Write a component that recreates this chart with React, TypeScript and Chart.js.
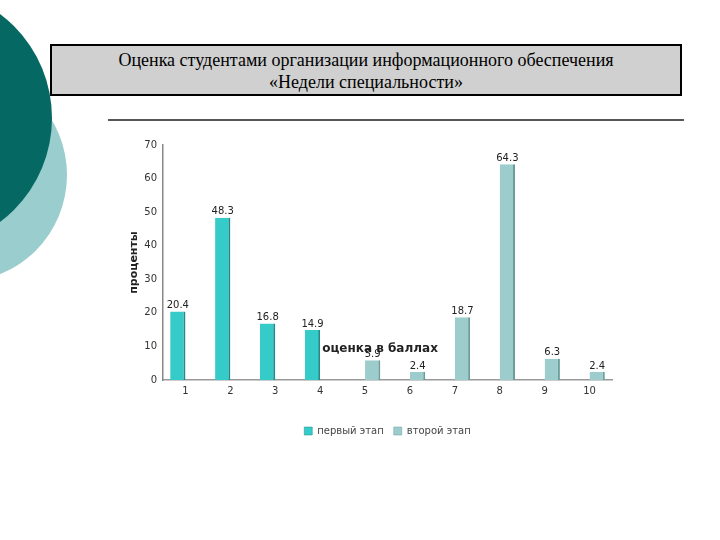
import React, { useEffect, useRef } from "react";
import { Chart, registerables } from "chart.js";

Chart.register(...registerables);

const titleLine1 = "Оценка студентами организации информационного обеспечения";
const titleLine2 = "«Недели специальности»";
const categories = ["1", "2", "3", "4", "5", "6", "7", "8", "9", "10"];
const firstStage = [20.4, 48.3, 16.8, 14.9, null, null, null, null, null, null];
const secondStage = [null, null, null, null, 5.9, 2.4, 18.7, 64.3, 6.3, 2.4];
const seriesNames = ["первый этап", "второй этап"];
const yTitle = "проценты";
const xTitle = "оценка в баллах";

const FONT = "'DejaVu Sans', sans-serif";

const valueLabels = {
  id: "valueLabels",
  afterDatasetsDraw(chart: any) {
    const ctx = chart.ctx;
    ctx.save();
    ctx.font = "10px " + FONT;
    ctx.fillStyle = "#222";
    ctx.textAlign = "center";
    ctx.textBaseline = "bottom";
    chart.data.datasets.forEach((ds: any, i: number) => {
      const meta = chart.getDatasetMeta(i);
      meta.data.forEach((el: any, j: number) => {
        const v = ds.data[j];
        if (v === null || v === undefined) return;
        ctx.fillText(String(v), el.x, el.y - 1);
      });
    });
    ctx.restore();
  },
};

const xTitlePlugin = {
  id: "xTitlePlugin",
  afterDraw(chart: any) {
    const ctx = chart.ctx;
    const xs = chart.scales.x;
    const ys = chart.scales.y;
    ctx.save();
    ctx.font = "bold 12px " + FONT;
    ctx.fillStyle = "#222";
    ctx.textAlign = "center";
    ctx.textBaseline = "middle";
    ctx.fillText(xTitle, xs.getPixelForValue(4) + 15, ys.getPixelForValue(9.4));
    ctx.restore();
  },
};

export default function App() {
  const ref = useRef<HTMLCanvasElement | null>(null);
  useEffect(() => {
    document.body.style.margin = "0";
    const chart = new Chart(ref.current as HTMLCanvasElement, {
      type: "bar",
      data: {
        labels: categories,
        datasets: [
          {
            label: seriesNames[0],
            data: firstStage as any,
            backgroundColor: "#35CBC8",
            borderColor: "#1E8C8A",
            borderWidth: { left: 0, right: 2, top: 0, bottom: 0 } as any,
            borderSkipped: false,
          },
          {
            label: seriesNames[1],
            data: secondStage as any,
            backgroundColor: "#9CCDCC",
            borderColor: "#6E9C9B",
            borderWidth: { left: 0, right: 2, top: 0, bottom: 0 } as any,
            borderSkipped: false,
          },
        ],
      },
      options: {
        responsive: false,
        animation: false,
        maintainAspectRatio: false,
        layout: { padding: { left: 0, right: 28, top: 15, bottom: 4 } },
        datasets: { bar: { categoryPercentage: 0.68, barPercentage: 1.0 } } as any,
        plugins: {
          legend: {
            position: "bottom",
            fullSize: false,
            labels: {
              boxWidth: 8,
              boxHeight: 8,
              padding: 10,
              color: "#444",
              font: { family: FONT, size: 10 },
            },
          },
          tooltip: { enabled: false },
        },
        scales: {
          x: {
            grid: { display: false, drawTicks: false },
            border: { display: true, color: "#999", width: 1.5 },
            ticks: { color: "#333", font: { family: FONT, size: 10 }, padding: 5 },
            afterFit: (s: any) => {
              s.height = 36;
            },
          },
          y: {
            min: 0,
            max: 70,
            grid: { display: false, drawTicks: false },
            border: { display: true, color: "#888", width: 1.5 },
            ticks: { stepSize: 10, color: "#333", font: { family: FONT, size: 10 }, padding: 6 },
            title: {
              display: true,
              text: yTitle,
              color: "#222",
              font: { family: FONT, size: 11, weight: "bold" },
              padding: { top: 28, bottom: 0 },
            },
            afterFit: (s: any) => {
              s.width = 63;
            },
          },
        },
      },
      plugins: [valueLabels, xTitlePlugin],
    });
    return () => chart.destroy();
  }, []);

  return (
    <div
      style={{
        position: "fixed",
        left: 0,
        top: 0,
        width: 720,
        height: 540,
        background: "#fff",
        overflow: "hidden",
      }}
    >
      <div
        style={{
          position: "absolute",
          left: -40 - 107,
          top: 175 - 107,
          width: 214,
          height: 214,
          borderRadius: "50%",
          background: "#9ACDCD",
        }}
      />
      <div
        style={{
          position: "absolute",
          left: -78 - 130,
          top: 118 - 130,
          width: 260,
          height: 260,
          borderRadius: "50%",
          background: "#066862",
        }}
      />
      <div
        style={{
          position: "absolute",
          left: 50,
          top: 44,
          width: 632,
          height: 52,
          boxSizing: "border-box",
          border: "2px solid #000",
          background: "#D0D0D0",
          fontFamily: "'Liberation Serif', 'Times New Roman', serif",
          fontSize: 18,
          lineHeight: "22px",
          textAlign: "center",
          paddingTop: 3,
          color: "#000",
        }}
      >
        <div>{titleLine1}</div>
        <div>{titleLine2}</div>
      </div>
      <div
        style={{
          position: "absolute",
          left: 108,
          top: 119,
          width: 576,
          height: 2,
          background: "#555",
        }}
      />
      <div style={{ position: "absolute", left: 100, top: 130 }}>
        <canvas ref={ref} width={540} height={320} style={{ display: "block" }} />
      </div>
    </div>
  );
}
